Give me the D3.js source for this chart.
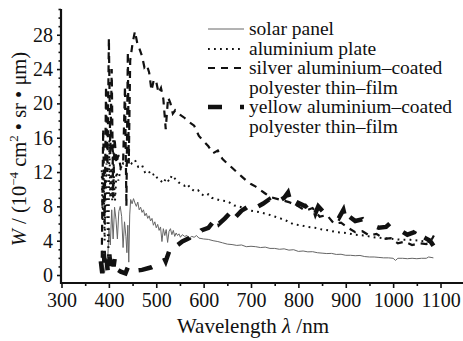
<!DOCTYPE html>
<html>
<head>
<meta charset="utf-8">
<script src="https://cdn.jsdelivr.net/npm/d3@7"></script>
<style>
body { margin: 0; background: #fff; }
svg { display: block; }
</style>
</head>
<body>
<div id="container"></div>
<script>
const width = 463;
const height = 341;
const serif = "'Liberation Serif', 'DejaVu Serif', 'Times New Roman', Times, serif";

// ---- data ----
const xTicks = [300, 400, 500, 600, 700, 800, 900, 1000, 1100];
const yTicks = [0, 4, 8, 12, 16, 20, 24, 28];

const solarWl = [385, 388, 391, 394, 397, 400, 403, 406, 409, 412, 415, 418, 421, 424, 427, 430, 433, 436, 438, 440, 442, 444, 446, 449, 452, 455, 458, 461, 464, 467, 470, 473, 476, 479, 482, 485, 488, 491, 494, 497, 500, 503, 506, 509, 512, 515, 518, 521, 524, 527, 530, 533, 536, 539, 542, 545, 548, 551, 555, 560, 565, 570, 575, 580, 585, 590, 600, 610, 620, 630, 640, 650, 660, 670, 680, 690, 700, 710, 720, 730, 740, 750, 760, 770, 780, 790, 800, 810, 820, 830, 840, 850, 860, 870, 880, 890, 900, 910, 920, 930, 940, 950, 960, 970, 980, 990, 1000, 1005, 1010, 1020, 1030, 1040, 1050, 1060, 1070, 1075, 1080, 1085];
const solarW = [2.6, 1.2, 0.3, 2.0, 0.8, 5.5, 3.5, 7.6, 4.2, 7.9, 6.5, 4.2, 7.4, 8.0, 6.8, 3.2, 6.2, 4.5, 2.6, 5.8, 1.5, 7.0, 8.8, 8.3, 8.9, 8.4, 8.0, 8.5, 7.6, 7.9, 7.3, 7.6, 6.9, 7.2, 6.6, 6.9, 6.3, 6.6, 5.8, 6.2, 5.5, 5.9, 5.2, 5.6, 3.9, 5.4, 4.6, 5.3, 3.8, 5.1, 5.4, 4.7, 5.2, 4.5, 4.9, 4.6, 4.8, 4.4, 4.7, 4.5, 4.6, 4.3, 4.5, 4.4, 4.6, 4.3, 4.2, 4.15, 4.0, 3.9, 3.75, 3.6, 3.55, 3.45, 3.5, 3.3, 3.35, 3.3, 3.2, 3.25, 3.1, 3.1, 3.0, 3.05, 2.9, 2.95, 2.75, 2.8, 2.7, 2.72, 2.6, 2.55, 2.5, 2.52, 2.4, 2.42, 2.3, 2.3, 2.25, 2.28, 2.15, 2.1, 2.1, 2.05, 2.0, 2.0, 1.95, 1.7, 1.95, 1.95, 1.9, 1.95, 1.9, 1.95, 1.95, 2.1, 2.05, 2.0];

const alumWl = [385, 387, 389, 391, 393, 395, 397, 399, 401, 403, 405, 407, 409, 411, 413, 416, 420, 425, 430, 436, 442, 448, 455, 462, 470, 476, 483, 490, 497, 503, 509, 515, 521, 527, 533, 540, 547, 553, 560, 566, 572, 580, 588, 596, 603, 610, 617, 624, 635, 650, 665, 680, 700, 720, 740, 762, 776, 790, 805, 820, 835, 850, 864, 880, 900, 920, 940, 959, 980, 1000, 1020, 1037, 1055, 1070, 1085];
const alumW = [12.2, 6.4, 11.5, 4.0, 9.5, 13.0, 6.0, 2.9, 15.7, 9.0, 12.5, 8.7, 15.7, 10.5, 8.7, 12.0, 11.0, 12.4, 13.0, 12.6, 13.5, 13.0, 13.4, 12.6, 12.8, 12.0, 12.2, 11.6, 11.8, 11.2, 11.0, 10.7, 11.3, 10.9, 11.6, 11.2, 10.8, 10.6, 10.4, 10.6, 10.1, 9.8, 9.9, 9.4, 9.2, 9.4, 9.0, 8.9, 8.7, 8.6, 8.1, 7.9, 7.5, 7.3, 7.0, 6.6, 6.3, 5.9, 5.8, 5.6, 5.5, 5.3, 5.2, 5.0, 4.9, 4.7, 4.6, 4.4, 4.3, 4.2, 4.1, 4.1, 4.0, 3.9, 3.8];

const silverWl = [385, 388, 391, 394, 397, 400, 403, 406, 409, 412, 416, 420, 425, 430, 434, 437, 440, 442, 445, 450, 455, 460, 465, 470, 475, 480, 485, 490, 495, 500, 505, 510, 515, 520, 525, 530, 535, 540, 550, 560, 570, 580, 590, 600, 610, 620, 630, 640, 650, 660, 670, 680, 690, 700, 710, 720, 730, 740, 760, 780, 800, 815, 830, 845, 860, 875, 890, 905, 920, 935, 950, 965, 980, 995, 1010, 1025, 1040, 1055, 1070, 1080, 1086];
const silverW = [2.0, 17.0, 6.0, 22.0, 12.0, 27.6, 14.0, 24.0, 9.0, 16.0, 13.0, 14.0, 12.5, 13.0, 22.0, 8.0, 26.0, 13.0, 25.0, 27.0, 28.4, 27.0, 26.3, 25.5, 24.2, 24.5, 23.6, 21.5, 22.8, 22.5, 21.2, 21.8, 20.5, 17.0, 20.7, 20.0, 18.8, 19.2, 18.7, 18.3, 17.8, 17.4, 16.2, 15.6, 15.0, 14.2, 14.5, 13.5, 13.0, 12.5, 12.0, 11.5, 11.0, 10.6, 10.3, 9.9, 9.5, 9.1, 8.8, 8.5, 8.0, 7.5, 7.8, 6.8, 7.0, 6.0, 6.1, 5.5, 5.0, 5.1, 4.6, 4.8, 4.2, 4.3, 3.7, 3.9, 3.5, 3.7, 3.6, 4.0, 4.6];

const yellowWl = [383, 386, 389, 392, 395, 398, 401, 404, 407, 410, 413, 416, 425, 435, 440, 445, 450, 455, 470, 490, 505, 515, 520, 530, 537, 543, 555, 570, 578, 585, 595, 610, 620, 628, 633, 645, 655, 662, 668, 680, 695, 705, 712, 725, 738, 745, 755, 770, 778, 785, 792, 800, 815, 828, 836, 842, 855, 870, 885, 895, 902, 908, 920, 935, 942, 955, 970, 985, 995, 1002, 1015, 1030, 1045, 1052, 1058, 1068, 1078, 1085];
const yellowW = [1.6, 0.2, 2.8, 0.4, 1.8, 0.3, 2.4, 0.6, 2.0, 1.0, 2.2, 0.7, 0.4, 0.2, 0.9, 0.4, 0.9, 0.5, 0.6, 0.9, 1.3, 2.2, 1.6, 3.2, 3.9, 3.4, 3.9, 4.3, 5.0, 4.6, 5.2, 5.5, 6.2, 7.0, 6.0, 6.6, 7.2, 7.9, 6.8, 7.5, 8.0, 8.6, 7.9, 8.3, 8.8, 8.0, 8.5, 9.0, 9.6, 8.2, 7.6, 8.4, 8.0, 8.6, 7.2, 8.0, 7.2, 7.0, 6.6, 7.6, 6.0, 6.8, 6.3, 6.5, 5.9, 5.8, 5.5, 5.6, 6.1, 5.4, 5.2, 4.7, 5.0, 5.6, 4.6, 4.3, 4.0, 3.4];

const seriesNames = [
  ["solar panel"],
  ["aluminium plate"],
  ["silver aluminium\u2013coated", "polyester thin\u2013film"],
  ["yellow aluminium\u2013coated", "polyester thin\u2013film"]
];

const styles = [
  { stroke: "#666", width: 1, dash: null },
  { stroke: "#111", width: 2, dash: "1.8,4.2" },
  { stroke: "#111", width: 2.2, dash: "7,6" },
  { stroke: "#111", width: 4.5, dash: "14,18" }
];

const series = [
  solarWl.map((w, i) => ({ wl: w, v: solarW[i] })),
  alumWl.map((w, i) => ({ wl: w, v: alumW[i] })),
  silverWl.map((w, i) => ({ wl: w, v: silverW[i] })),
  yellowWl.map((w, i) => ({ wl: w, v: yellowW[i] }))
];

const svg = d3.select("#container").append("svg")
  .attr("width", width)
  .attr("height", height)
  .attr("font-family", serif);

//----------------------------SCALES----------------------------//
const x = d3.scaleLinear().domain([300, 1150]).range([61.5, 464.2]);
const y = d3.scaleLinear().domain([-1, 31]).range([283.6, 9]);

//----------------------------LINES-----------------------------//
const line = d3.line()
  .x(d => x(d.wl))
  .y(d => y(d.v));

series.forEach(function(s, i) {
  svg.append("path")
    .datum(s)
    .attr("fill", "none")
    .attr("stroke", styles[i].stroke)
    .attr("stroke-width", styles[i].width)
    .attr("stroke-dasharray", styles[i].dash)
    .attr("d", line);
});

//-----------------------------AXES-----------------------------//
const xAxis = svg.append("g")
  .attr("transform", "translate(0,283)")
  .call(d3.axisBottom(x).tickValues(xTicks).tickSize(5).tickPadding(3).tickFormat(d3.format("d")));
const xMinor = svg.append("g")
  .attr("transform", "translate(0,283)")
  .call(d3.axisBottom(x).tickValues(xTicks.slice(0, -1).map(d => d + 50)).tickSize(3).tickFormat(""));
const yAxis = svg.append("g")
  .attr("transform", "translate(61,0)")
  .call(d3.axisLeft(y).tickValues(yTicks).tickSize(4).tickPadding(4));
const yMinor = svg.append("g")
  .attr("transform", "translate(61,0)")
  .call(d3.axisLeft(y).tickValues(d3.range(0, 32).filter(d => d % 4 !== 0)).tickSize(2.5).tickFormat(""));

[xAxis, xMinor, yAxis, yMinor].forEach(function(g) {
  g.attr("font-family", serif).attr("font-size", 20);
  g.selectAll(".domain").remove();
  g.selectAll("line").attr("stroke", "#111").attr("stroke-width", 1.6);
  g.selectAll("text").attr("fill", "#111");
});
xAxis.selectAll("text").attr("dy", "0.78em");

svg.append("line").attr("x1", 61).attr("x2", 463).attr("y1", 283).attr("y2", 283)
  .attr("stroke", "#111").attr("stroke-width", 2.2);
svg.append("line").attr("x1", 61).attr("x2", 61).attr("y1", 9).attr("y2", 284)
  .attr("stroke", "#111").attr("stroke-width", 2.2);

// axis titles
const xt = svg.append("text")
  .attr("x", 253).attr("y", 333)
  .attr("text-anchor", "middle")
  .attr("fill", "#111")
  .attr("font-size", 21);
xt.append("tspan").text("Wavelength ");
xt.append("tspan").attr("font-style", "italic").text("\u03bb");
xt.append("tspan").text(" /nm");

const yt = svg.append("text")
  .attr("transform", "translate(26,149) rotate(-90)")
  .attr("text-anchor", "middle")
  .attr("fill", "#111")
  .attr("font-size", 20.5);
yt.append("tspan").attr("font-style", "italic").text("W");
yt.append("tspan").text(" / (10");
yt.append("tspan").attr("dy", -8).attr("font-size", 13).text("\u22124");
yt.append("tspan").attr("dy", 8).text(" cm");
yt.append("tspan").attr("dy", -8).attr("font-size", 13).text("2");
yt.append("tspan").attr("dy", 8).text(" \u2022 sr \u2022 \u03bcm)");

//---------------------------LEGEND-----------------------------//
const legendRows = [29, 49, 68, 107];
const legend = svg.append("g");
seriesNames.forEach(function(names, i) {
  legend.append("line")
    .attr("x1", 208).attr("x2", 244)
    .attr("y1", legendRows[i]).attr("y2", legendRows[i])
    .attr("stroke", styles[i].stroke)
    .attr("stroke-width", styles[i].width)
    .attr("stroke-dasharray", styles[i].dash);
  names.forEach(function(n, j) {
    legend.append("text")
      .attr("x", 249)
      .attr("y", legendRows[i] + j * 19.5 + 6)
      .attr("fill", "#111")
      .attr("font-size", 19.5)
      .text(n);
  });
});
</script>
</body>
</html>
